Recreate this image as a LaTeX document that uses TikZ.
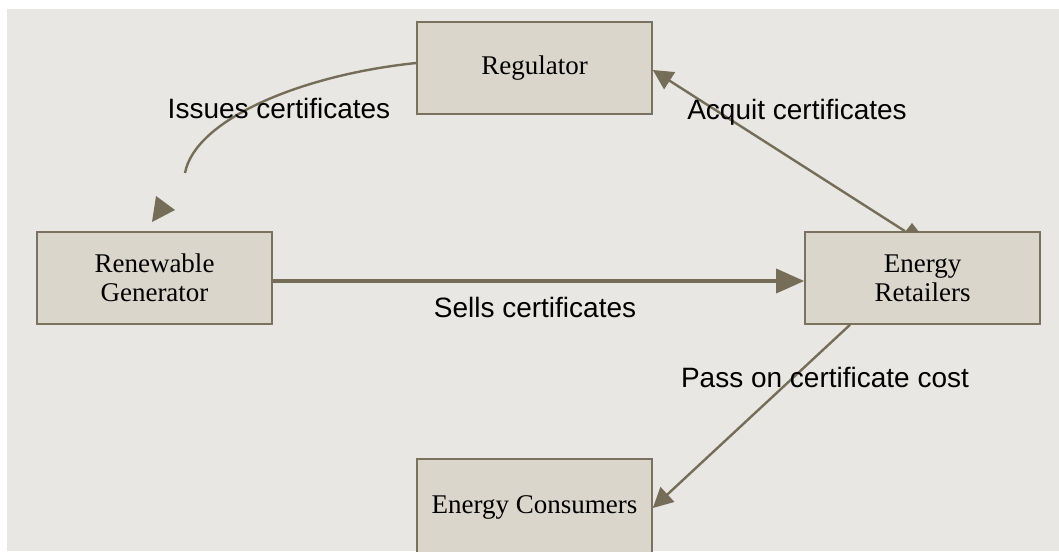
\documentclass[tikz,border=0pt]{standalone}
\usepackage{fontspec}
\newfontfamily\lblfont{Liberation Sans}
\newfontfamily\boxfont{Liberation Serif}
\usetikzlibrary{arrows.meta}
\definecolor{bgc}{HTML}{E8E7E3}
\definecolor{boxfill}{HTML}{DAD6CC}
\definecolor{boxline}{HTML}{7A725E}
\definecolor{arrc}{HTML}{756D58}
\tikzset{
  box/.style={draw=boxline, fill=boxfill, line width=0.8pt, minimum width=117.5pt, minimum height=46pt,
    align=center, inner sep=0pt, font=\boxfont\fontsize{13.5pt}{14.5pt}\selectfont},
  conn/.style={draw=arrc, line width=1.2pt},
  lbl/.style={font=\lblfont\fontsize{14pt}{16pt}\selectfont, inner sep=0pt, anchor=center},
  tipbig/.style={-{Triangle[length=14pt,width=12pt]}},
  tipmid/.style={-{Triangle[length=10pt,width=10pt]}}
}
\begin{document}
\begin{tikzpicture}[x=0.5pt,y=-0.5pt]
\useasboundingbox (0,0) rectangle (1059,551);
\fill[bgc] (7,9) rectangle (1059,551);

\node[box] (reg) at (534.5,68) {Regulator};
\node[box] (gen) at (154.5,278) {Renewable\\Generator};
\node[box] (ret) at (922.5,278) {Energy\\Retailers};
\node[box, minimum height=48pt] (con) at (534.5,507) {Energy Consumers};

% Issues certificates (curve with detached arrowhead)
\coordinate (ie) at (185,173);
\draw[conn] ([yshift=2.5pt]reg.west) .. controls (300,75) and (195,120) .. (ie);
\fill[arrc] (156,196) -- (175,210) -- (152,222) -- cycle;

% Sells certificates
\draw[conn, line width=1.75pt, tipbig] ([yshift=-1.5pt]gen.east) -- ([yshift=-1.5pt]ret.west);

% Acquit certificates
\draw[conn, tipmid] ([xshift=-8.75pt]ret.north) -- ([yshift=-1pt]reg.east);
\fill[arrc] (905,232) -- (912,223) -- (919,232) -- cycle;

% Pass on certificate cost
\draw[conn, tipmid] ([xshift=-36.25pt]ret.south) -- ([yshift=-0.5pt]con.east);

\node[lbl] (l1) at (279,108) {Issues certificates};
\node[lbl] (l2) at (535,307) {Sells certificates};
\node[lbl] (l3) at (797,112) {Acquit certificates};
\node[lbl] (l4) at (825,377) {Pass on certificate cost};
\end{tikzpicture}
\end{document}
